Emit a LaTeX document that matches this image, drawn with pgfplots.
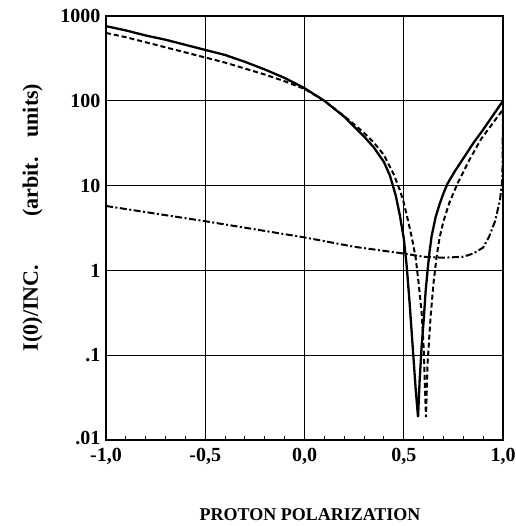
\documentclass[border=0pt]{standalone}
\usepackage{fontspec}
\setmainfont{Liberation Serif}
\usepackage{pgfplots}
\pgfplotsset{compat=1.18}
\begin{document}
\begin{tikzpicture}
\useasboundingbox (-106pt,-86pt) rectangle (409pt,440pt);
\begin{axis}[
  at={(0,0)}, anchor=south west,
  scale only axis, width=397pt, height=424pt,
  xmin=-1, xmax=1, ymin=0.01, ymax=1000, ymode=log,
  xtick={-1,-0.5,0,0.5,1},
  xticklabels={{-1,0},{-0,5},{0,0},{0,5},{1,0}},
  ytick={0.01,0.1,1,10,100,1000},
  yticklabels={{\raisebox{5pt}{.01}},.1,1,10,100,1000},
  minor xtick={-0.9,-0.8,-0.7,-0.6,-0.4,-0.3,-0.2,-0.1,0.1,0.2,0.3,0.4,0.6,0.7,0.8,0.9},
  yminorticks=false,
  xtick pos=bottom, ytick pos=left,
  major tick length=0pt, minor tick length=4pt,
  minor tick style={black, line width=1pt},
  grid=major,
  major grid style={black, line width=1pt},
  axis line style={black, line width=1.5pt},
  ticklabel style={font=\bfseries\fontsize{20}{22}\selectfont},
  xticklabel style={yshift=-5pt},
  yticklabel style={xshift=-2pt},
  xlabel={PROTON POLARIZATION},
  xlabel style={at={(axis description cs:0.514,-0.177)}, anchor=center, font=\bfseries\fontsize{18}{22}\selectfont},
  ylabel={I(0)/INC.\hspace{2.2em}(arbit.\hspace{0.9em}units)},
  ylabel style={at={(axis description cs:-0.185,0.525)}, anchor=center, font=\bfseries\fontsize{22}{24}\selectfont},
  clip=false,
]
% solid
\addplot[black, line width=2.3pt] coordinates {
(-1.0,759) (-0.9,676) (-0.8,589) (-0.7,525) (-0.6,457) (-0.5,398) (-0.4,347)
(-0.3,288) (-0.2,234) (-0.1,186) (0.0,141) (0.1,100) (0.2,65)
(0.3,38) (0.35,28) (0.4,19) (0.43,13.2) (0.46,7.6) (0.48,4.5) (0.5,2.4) (0.515,1.12)
(0.53,0.4) (0.545,0.126) (0.56,0.04) (0.572,0.0186) (0.58,0.05) (0.59,0.126)
(0.6,0.25) (0.61,0.56) (0.62,1.0) (0.63,1.66) (0.64,2.5) (0.66,4.2) (0.68,6.0)
(0.70,8.1) (0.72,10.5) (0.76,15.1) (0.8,20.9) (0.85,31.6) (0.9,45.7) (0.95,67.6) (1.0,100)
};
% dashed
\addplot[black, line width=2pt, dash pattern=on 5pt off 3pt] coordinates {
(-1.0,631) (-0.9,562) (-0.8,490) (-0.7,427) (-0.6,372) (-0.5,324) (-0.4,282)
(-0.3,240) (-0.2,204) (-0.1,170) (0.0,138) (0.1,100) (0.2,66)
(0.3,42) (0.35,32) (0.4,23) (0.45,13.5) (0.48,8.9) (0.5,6.3) (0.52,4.0) (0.54,2.5)
(0.56,1.41) (0.575,0.71) (0.59,0.32) (0.6,0.126) (0.612,0.0186) (0.62,0.079)
(0.635,0.28) (0.65,0.71) (0.665,1.41) (0.68,2.4) (0.7,3.8) (0.73,6.3) (0.77,10.5)
(0.83,20) (0.89,35.5) (0.95,55) (1.0,79)
};
% dash-dot
\addplot[black, line width=2pt, dash pattern=on 7pt off 2.5pt on 2pt off 2.5pt] coordinates {
(-1.0,5.75) (-0.5,3.8) (0.0,2.45) (0.25,1.9) (0.5,1.58) (0.6,1.45) (0.7,1.41)
(0.8,1.45) (0.85,1.58) (0.9,1.86) (0.93,2.5) (0.96,3.8) (0.985,6.8) (0.997,12) (1.0,85)
};
\end{axis}
\end{tikzpicture}
\end{document}
